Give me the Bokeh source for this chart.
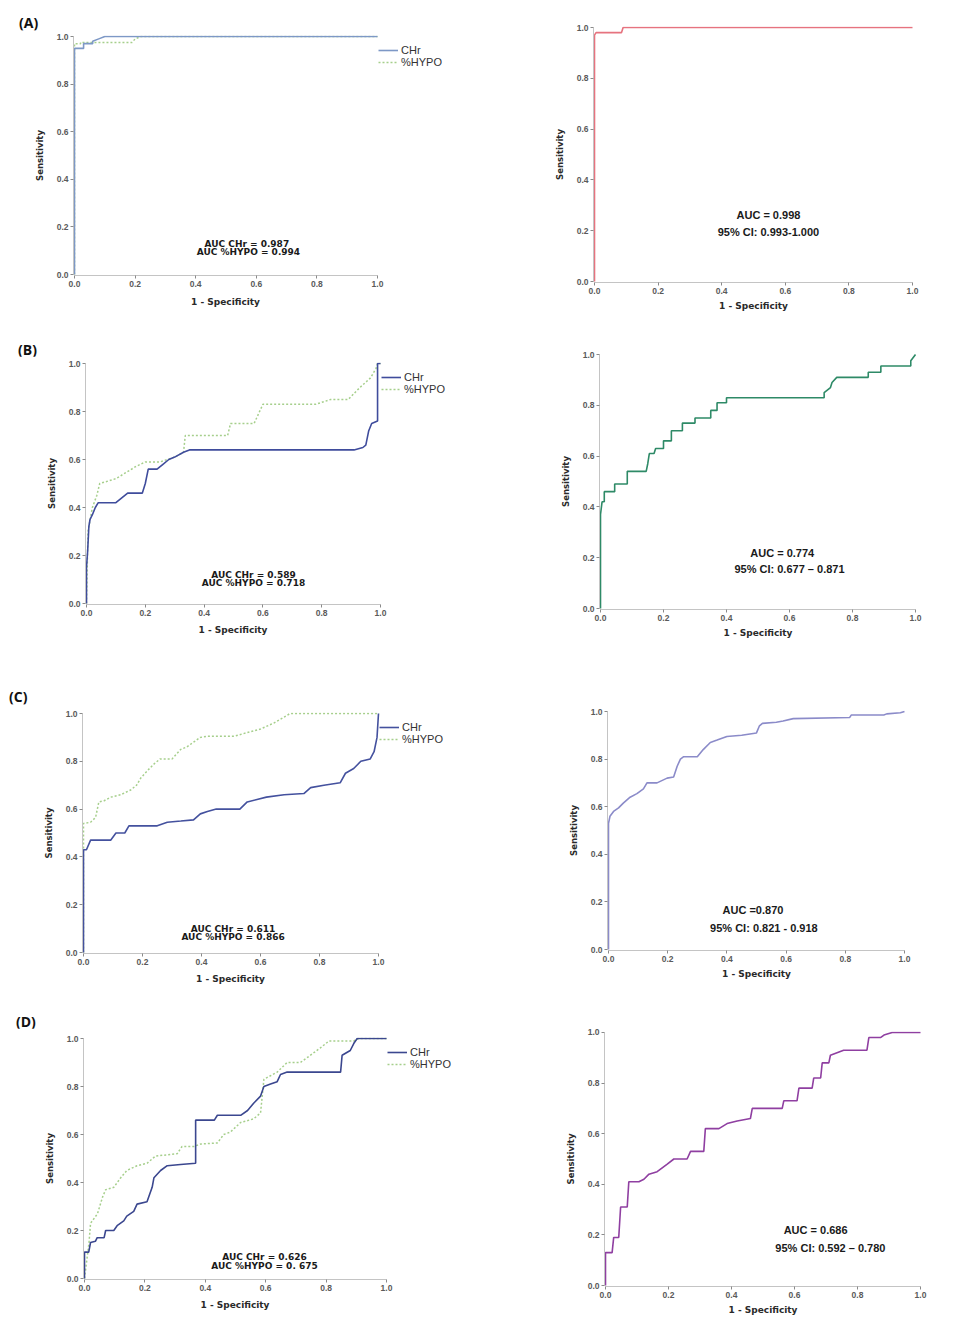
from bokeh.plotting import figure
from bokeh.models import Range1d, FixedTicker, NumeralTickFormatter, Label, Legend, LegendItem, Div
from bokeh.layouts import column, row
from bokeh.embed import file_html
from bokeh.resources import INLINE

# ---------------- data ----------------
tick_values = [0.0, 0.2, 0.4, 0.6, 0.8, 1.0]
x_title = "1 - Specificity"
y_title = "Sensitivity"
panel_letters = ["(A)", "(B)", "(C)", "(D)"]
series_names = ["CHr", "%HYPO"]

# (A)
a_chr_x = [0, 0, 0.03, 0.03, 0.06, 0.06, 0.08, 0.10, 1.0]
a_chr_y = [0, 0.95, 0.95, 0.97, 0.97, 0.98, 0.99, 1.0, 1.0]
a_hypo_x = [0, 0, 0.02, 0.02, 0.19, 0.20, 0.22, 1.0]
a_hypo_y = [0, 0.97, 0.97, 0.975, 0.975, 0.99, 1.0, 1.0]
a_comb_x = [0, 0, 0.005, 0.085, 0.09, 1.0]
a_comb_y = [0, 0.97, 0.98, 0.98, 1.0, 1.0]
a_auc = ["AUC  CHr = 0.987", "AUC %HYPO = 0.994"]
a_comb_txt = ["AUC = 0.998", "95% CI: 0.993-1.000"]

# (B)
b_chr_x = [0, 0, 0.004, 0.008, 0.012, 0.02, 0.03, 0.04, 0.10, 0.12, 0.14, 0.19, 0.20, 0.21,
           0.24, 0.26, 0.28, 0.30, 0.33, 0.35, 0.91, 0.94, 0.95, 0.96, 0.97, 0.99, 0.99, 1.0]
b_chr_y = [0, 0.15, 0.22, 0.32, 0.35, 0.37, 0.40, 0.42, 0.42, 0.44, 0.46, 0.46, 0.50, 0.56,
           0.56, 0.58, 0.60, 0.61, 0.63, 0.64, 0.64, 0.65, 0.66, 0.72, 0.75, 0.76, 1.0, 1.0]
b_hypo_x = [0, 0.005, 0.02, 0.035, 0.045, 0.10, 0.167, 0.20, 0.25, 0.30, 0.33, 0.336,
            0.48, 0.49, 0.57, 0.60, 0.78, 0.83, 0.89, 0.93, 0.966, 0.985, 0.99, 1.0]
b_hypo_y = [0, 0.30, 0.40, 0.45, 0.50, 0.52, 0.57, 0.59, 0.59, 0.61, 0.63, 0.70,
            0.70, 0.75, 0.75, 0.83, 0.83, 0.85, 0.85, 0.90, 0.94, 0.98, 1.0, 1.0]
b_comb_x = [0, 0, 0.005, 0.012, 0.012, 0.045, 0.045, 0.085, 0.085, 0.145, 0.15, 0.155, 0.17,
            0.175, 0.20, 0.20, 0.225, 0.225, 0.26, 0.26, 0.30, 0.30, 0.35, 0.35, 0.37, 0.37,
            0.40, 0.40, 0.71, 0.71, 0.73, 0.735, 0.75, 0.85, 0.85, 0.89, 0.89, 0.985, 0.985, 1.0]
b_comb_y = [0, 0.37, 0.42, 0.42, 0.46, 0.46, 0.49, 0.49, 0.54, 0.54, 0.57, 0.61, 0.61,
            0.63, 0.63, 0.66, 0.66, 0.70, 0.70, 0.73, 0.73, 0.75, 0.75, 0.78, 0.78, 0.81,
            0.81, 0.83, 0.83, 0.85, 0.87, 0.89, 0.91, 0.91, 0.93, 0.93, 0.955, 0.955, 0.975, 1.0]
b_auc = ["AUC CHr = 0.589", "AUC %HYPO = 0.718"]
b_comb_txt = ["AUC = 0.774", "95% CI: 0.677 \u2013 0.871"]

# (C)
c_chr_x = [0, 0, 0.01, 0.024, 0.092, 0.11, 0.14, 0.154, 0.25, 0.284, 0.33, 0.373, 0.396, 0.42,
           0.45, 0.53, 0.555, 0.62, 0.68, 0.747, 0.77, 0.815, 0.87, 0.888, 0.916, 0.94, 0.972,
           0.985, 0.995, 1.0]
c_chr_y = [0, 0.43, 0.43, 0.47, 0.47, 0.50, 0.50, 0.53, 0.53, 0.545, 0.55, 0.555, 0.58, 0.59,
           0.60, 0.60, 0.63, 0.65, 0.66, 0.665, 0.69, 0.70, 0.71, 0.75, 0.77, 0.80, 0.81,
           0.84, 0.90, 1.0]
c_hypo_x = [0, 0, 0.024, 0.041, 0.052, 0.07, 0.092, 0.126, 0.16, 0.18, 0.194, 0.216, 0.24, 0.26,
            0.30, 0.33, 0.35, 0.373, 0.396, 0.42, 0.51, 0.555, 0.60, 0.645, 0.68, 0.70, 1.0]
c_hypo_y = [0, 0.54, 0.545, 0.565, 0.63, 0.635, 0.65, 0.66, 0.68, 0.70, 0.73, 0.76, 0.79, 0.81,
            0.81, 0.85, 0.86, 0.88, 0.90, 0.905, 0.905, 0.92, 0.935, 0.96, 0.985, 1.0, 1.0]
c_comb_x = [0, 0, 0.005, 0.017, 0.034, 0.05, 0.073, 0.096, 0.118, 0.13, 0.164, 0.198, 0.22,
            0.232, 0.243, 0.254, 0.30, 0.32, 0.344, 0.367, 0.40, 0.45, 0.50, 0.51, 0.52, 0.567,
            0.59, 0.624, 0.815, 0.82, 0.93, 0.94, 0.986, 1.0]
c_comb_y = [0, 0.53, 0.56, 0.58, 0.595, 0.615, 0.64, 0.655, 0.675, 0.70, 0.70, 0.72, 0.725,
            0.77, 0.80, 0.81, 0.81, 0.84, 0.87, 0.88, 0.895, 0.90, 0.91, 0.94, 0.95, 0.955,
            0.96, 0.97, 0.975, 0.985, 0.985, 0.99, 0.995, 1.0]
c_auc = ["AUC CHr = 0.611", "AUC %HYPO = 0.866"]
c_comb_txt = ["AUC =0.870", "95% CI: 0.821 - 0.918"]

# (D)
d_chr_x = [0, 0, 0.014, 0.02, 0.036, 0.042, 0.065, 0.07, 0.097, 0.108, 0.13, 0.14, 0.163, 0.174,
           0.207, 0.224, 0.23, 0.252, 0.274, 0.318, 0.368, 0.368, 0.43, 0.44, 0.517, 0.54, 0.56,
           0.583, 0.594, 0.616, 0.638, 0.649, 0.671, 0.848, 0.853, 0.88, 0.892, 0.903, 1.0]
d_chr_y = [0, 0.11, 0.11, 0.15, 0.155, 0.17, 0.17, 0.20, 0.20, 0.22, 0.24, 0.26, 0.28, 0.31,
           0.32, 0.38, 0.42, 0.45, 0.47, 0.475, 0.48, 0.66, 0.66, 0.68, 0.68, 0.70, 0.73,
           0.76, 0.80, 0.81, 0.82, 0.85, 0.86, 0.86, 0.93, 0.95, 0.98, 1.0, 1.0]
d_hypo_x = [0, 0.015, 0.02, 0.043, 0.06, 0.07, 0.097, 0.12, 0.14, 0.174, 0.207, 0.235, 0.307,
            0.323, 0.362, 0.384, 0.44, 0.461, 0.483, 0.517, 0.56, 0.583, 0.594, 0.638, 0.671,
            0.715, 0.737, 0.78, 0.81, 0.892, 0.908, 1.0]
d_hypo_y = [0, 0.15, 0.23, 0.27, 0.34, 0.37, 0.38, 0.42, 0.45, 0.47, 0.48, 0.51, 0.52,
            0.55, 0.55, 0.56, 0.565, 0.60, 0.61, 0.65, 0.665, 0.69, 0.83, 0.86, 0.90,
            0.90, 0.92, 0.96, 0.99, 0.99, 1.0, 1.0]
d_comb_x = [0, 0, 0.021, 0.026, 0.042, 0.048, 0.069, 0.074, 0.106, 0.122, 0.138, 0.164, 0.196,
            0.217, 0.259, 0.27, 0.312, 0.317, 0.36, 0.386, 0.418, 0.46, 0.466, 0.561, 0.566,
            0.608, 0.614, 0.656, 0.661, 0.683, 0.688, 0.709, 0.714, 0.735, 0.756, 0.83, 0.836,
            0.873, 0.884, 0.91, 1.0]
d_comb_y = [0, 0.13, 0.13, 0.19, 0.19, 0.31, 0.31, 0.41, 0.41, 0.42, 0.44, 0.45, 0.48,
            0.50, 0.50, 0.53, 0.53, 0.62, 0.62, 0.64, 0.65, 0.66, 0.70, 0.70, 0.73,
            0.73, 0.78, 0.78, 0.82, 0.82, 0.88, 0.88, 0.91, 0.92, 0.93, 0.93, 0.98,
            0.98, 0.99, 1.0, 1.0]
d_auc = ["AUC CHr = 0.626", "AUC %HYPO = 0. 675"]
d_comb_txt = ["AUC = 0.686", "95% CI: 0.592 \u2013 0.780"]

# ---------------- style / layout ----------------
FONT = "Liberation Sans"
WIDE = "DejaVu Sans"
row_tops = [0, 330, 680, 1000]
row_bottoms = [330, 680, 1000, 1317]
col_lefts = [0, 490]
col_rights = [490, 964]
# plot frames (0..1 data box) in page pixels: (left, top, right, bottom)
frames = [
    [(74, 36, 377, 274), (594, 27, 912, 281)],
    [(86, 363, 380, 603), (600, 354, 915, 608)],
    [(83, 713, 378, 952), (608, 711, 904, 949)],
    [(84, 1038, 386, 1278), (605, 1032, 920, 1286)],
]
# letter strip above each left panel: (strip height, text left, text top)
letter_strips = [(30, 19, 14), (26, 18, 11), (24, 9, 8), (28, 16, 13)]
# centre (page y) of the x-axis title under each left panel
left_xtitle_y = [298, 626, 975, 1301]
chr_colors = ["#7d98c6", "#3f4c9c", "#44519e", "#3b478f"]
hypo_color = "#a6cf8c"
comb_colors = ["#e6737f", "#2e8a67", "#8b8bc9", "#8f3fa1"]
left_txt_pos = [(0.574, 0.13, 0.095), (0.568, 0.12, 0.085), (0.507, 0.10, 0.063), (0.596, 0.09, 0.052)]
right_txt_pos = [((0.547, 0.26), (0.547, 0.193)), ((0.577, 0.22), (0.60, 0.154)),
                 ((0.488, 0.164), (0.525, 0.091)), ((0.667, 0.22), (0.714, 0.15))]

chr_data = [(a_chr_x, a_chr_y), (b_chr_x, b_chr_y), (c_chr_x, c_chr_y), (d_chr_x, d_chr_y)]
hypo_data = [(a_hypo_x, a_hypo_y), (b_hypo_x, b_hypo_y), (c_hypo_x, c_hypo_y), (d_hypo_x, d_hypo_y)]
comb_data = [(a_comb_x, a_comb_y), (b_comb_x, b_comb_y), (c_comb_x, c_comb_y), (d_comb_x, d_comb_y)]
auc_texts = [a_auc, b_auc, c_auc, d_auc]
comb_texts = [a_comb_txt, b_comb_txt, c_comb_txt, d_comb_txt]


def make_fig(r, c, top, bottom, extend_right=None, with_xtitle=True):
    fl, ft, fr, fb = frames[r][c]
    W = float(fr - fl)
    H = float(fb - ft)
    right_px = fr + 1 if extend_right is None else extend_right
    x_end = 1.0 + (right_px - fr) / W
    p = figure(width=col_rights[c] - col_lefts[c], height=bottom - top,
               x_range=Range1d(-1.0 / W, x_end), y_range=Range1d(-1.0 / H, 1.0 + 1.0 / H),
               output_backend="svg", toolbar_location=None, title=None,
               min_border_left=fl - 1 - col_lefts[c], min_border_right=col_rights[c] - right_px,
               min_border_top=ft - 1 - top, min_border_bottom=bottom - fb - 1)
    p.grid.visible = False
    p.outline_line_color = None
    p.background_fill_color = "white"
    p.border_fill_color = "white"
    for ax in (p.xaxis[0], p.yaxis[0]):
        ax.ticker = FixedTicker(ticks=tick_values)
        ax.formatter = NumeralTickFormatter(format="0.0")
        ax.bounds = (0, 1)
        ax.axis_line_color = "#c4c4c4"
        ax.axis_line_width = 1
        ax.major_tick_line_color = "#8a8a8a"
        ax.major_tick_out = 3
        ax.major_tick_in = 0
        ax.minor_tick_line_color = None
        ax.major_label_text_font = FONT
        ax.major_label_text_font_size = "8.5px"
        ax.major_label_text_font_style = "bold"
        ax.major_label_text_color = "#5a5a5a"
        ax.major_label_standoff = 2
        ax.axis_label_text_font = WIDE
        ax.axis_label_text_font_style = "bold"
        ax.axis_label_text_color = "#2a2a2a"
    if with_xtitle:
        p.xaxis.axis_label = x_title
    p.yaxis.axis_label = y_title
    p.xaxis.axis_label_text_font_size = "9px"
    p.yaxis.axis_label_text_font_size = "8.5px"
    p.xaxis.axis_label_standoff = 4
    p.yaxis.axis_label_standoff = 9
    return p, W, H


def add_text(p, x, y, txt, size, font):
    p.add_layout(Label(x=x, y=y, text=txt, text_align="center", text_baseline="middle",
                       text_font=font, text_font_size=size, text_font_style="bold",
                       text_color="#1a1a1a"))


rows = []
for r in range(4):
    fl, ft, fr, fb = frames[r][0]
    sh, lx, ly = letter_strips[r]
    strip = Div(text=('<div style="position:relative; left:%dpx; top:%dpx; font-family:\'Open Sans\';'
                      ' font-size:14px; font-weight:bold; line-height:17px; color:#111;">%s</div>')
                % (lx, ly, panel_letters[r]),
                width=col_rights[0] - col_lefts[0], height=sh, margin=0)

    fig_top = row_tops[r] + sh
    fig_bottom = fb + 18
    xt = Div(text=('<div style="position:relative; left:%dpx; top:%dpx; width:%dpx; text-align:center;'
                   ' font-family:\'DejaVu Sans\'; font-size:9px; font-weight:bold; line-height:10px;'
                   ' color:#2a2a2a;">%s</div>')
             % (fl - col_lefts[0], max(0, left_xtitle_y[r] - fig_bottom - 5), fr - fl, x_title),
             width=col_rights[0] - col_lefts[0], height=row_bottoms[r] - fig_bottom, margin=0)

    # left panel: CHr vs %HYPO (frame extended to the right to host the legend)
    pl, W, H = make_fig(r, 0, fig_top, fig_bottom, extend_right=col_rights[0] - 2, with_xtitle=False)
    hx, hy = hypo_data[r]
    cx, cy = chr_data[r]
    r_h = pl.line(hx, hy, line_color=hypo_color, line_width=1.5, line_dash="2 2")
    r_c = pl.line(cx, cy, line_color=chr_colors[r], line_width=1.6)
    legend = Legend(items=[LegendItem(label=series_names[0], renderers=[r_c]),
                           LegendItem(label=series_names[1], renderers=[r_h])],
                    location=(int(W), int(H) - 33), margin=0, padding=2, spacing=0,
                    glyph_width=20, glyph_height=12, label_height=12, label_standoff=3,
                    label_text_font=FONT, label_text_font_size="11px", label_text_color="#333333",
                    border_line_alpha=0, background_fill_alpha=0)
    pl.add_layout(legend)
    tx, ty1, ty2 = left_txt_pos[r]
    add_text(pl, tx, ty1, auc_texts[r][0], "9px", WIDE)
    add_text(pl, tx, ty2, auc_texts[r][1], "9px", WIDE)

    # right panel: combined
    pr, _, _ = make_fig(r, 1, row_tops[r], row_bottoms[r])
    mx, my = comb_data[r]
    pr.line(mx, my, line_color=comb_colors[r], line_width=1.6)
    (x1, y1), (x2, y2) = right_txt_pos[r]
    add_text(pr, x1, y1, comb_texts[r][0], "11px", FONT)
    add_text(pr, x2, y2, comb_texts[r][1], "11px", FONT)
    rows.append(row(column(strip, pl, xt), pr))

layout = column(*rows)
open("out.html", "w").write(file_html(layout, INLINE))
